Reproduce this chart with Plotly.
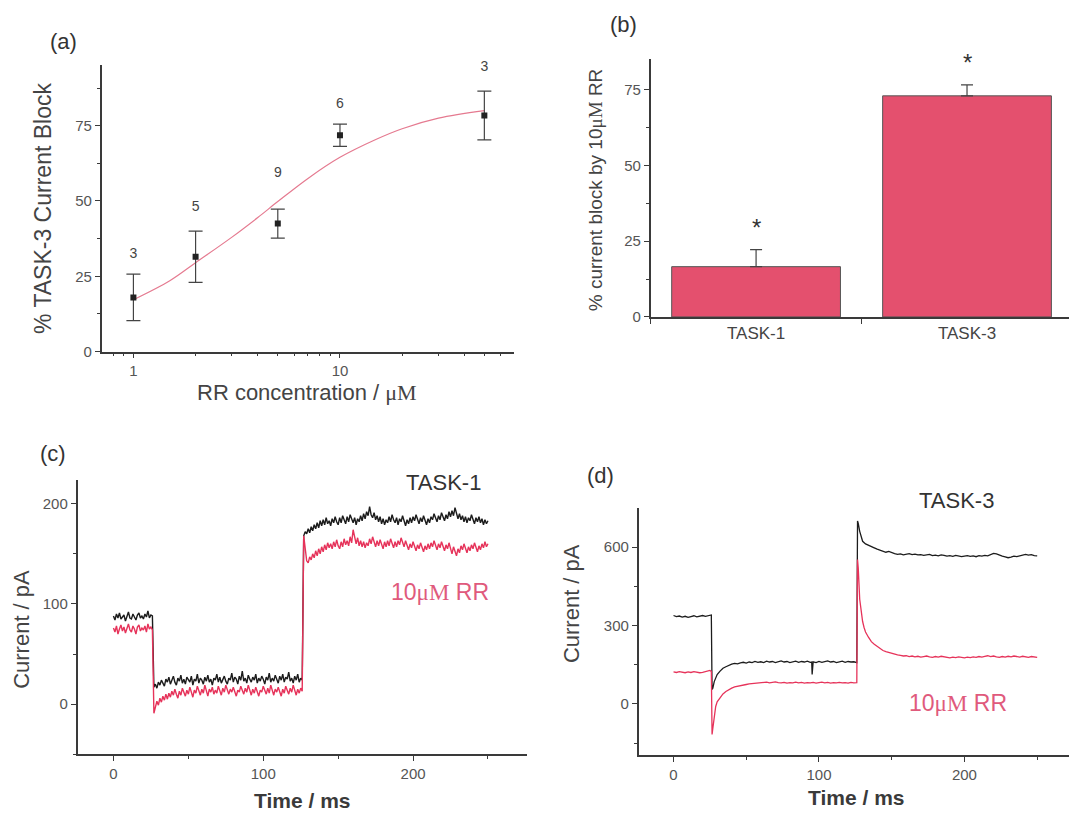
import plotly.graph_objects as go

W, H = 1077, 817

# ---------------- (a) concentration response ----------------
conc = [1, 2, 5, 10, 50]
block = [18.0, 31.5, 42.5, 71.8, 78.4]
block_err = [7.7, 8.5, 4.8, 3.7, 8.1]
n_cells = ["3", "5", "9", "6", "3"]
n_label_y = [32.3, 48.0, 59.1, 82.1, 94.4]
fit_conc = [1, 1.5, 2, 3, 4, 5, 7, 10, 15, 20, 30, 50]
fit_block = [17.2, 23.5, 29.5, 38.0, 44.5, 49.8, 57.5, 64.5, 70.5, 74.0, 77.5, 80.0]

# ---------------- (b) block by 10 uM RR ----------------
channels = ["TASK-1", "TASK-3"]
block10 = [16.6, 73.0]
block10_err = [5.6, 3.6]
star_y = [31.3, 85.6]

# ---------------- (c) TASK-1 currents (pA), 1 ms sampling ----------------
c_black_1 = [88, 84, 90, 86, 91, 85, 87, 89, 83, 88, 92, 86, 85, 90, 87, 84, 89, 91, 86, 88, 85, 90, 87, 93, 86, 89, 88]
c_black_2 = [17, 20, 16, 22, 19, 24, 21, 18, 25, 22, 27, 20, 24, 28, 22, 19, 26, 23, 29, 21,
             25, 20, 27, 24, 22, 28, 19, 25, 23, 30, 21, 26, 24, 20, 27, 23, 29, 22, 25, 19,
             26, 24, 30, 22, 27, 21, 25, 28, 23, 20, 26, 24, 31, 22, 27, 25, 20, 28, 24, 33,
             23, 26, 21, 29, 25, 22, 27, 24, 30, 21, 26, 23, 28, 25, 20, 27, 24, 31, 22, 26,
             23, 29, 25, 21, 28, 24, 30, 22, 27, 25, 32, 23, 26, 21, 28, 24, 30, 22, 26, 24]
c_black_3 = [168, 172, 170, 175, 171, 177, 173, 179, 175, 181, 176, 183, 178, 184, 179, 186, 180, 183, 178, 185,
             181, 187, 182, 179, 186, 181, 188, 183, 180, 187, 182, 189, 184, 181, 186, 179, 185, 182, 188, 183,
             190, 185, 192, 188, 197, 189, 186, 191, 184, 188, 182, 187, 180, 185, 179, 184, 181, 187, 182, 189,
             184, 181, 186, 179, 185, 182, 188, 183, 178, 184, 180, 186, 181, 187, 183, 189, 184, 180, 186, 182,
             188, 183, 179, 185, 181, 187, 184, 190, 185, 182, 188, 184, 191, 186, 183, 189, 185, 192, 187, 193,
             188, 196, 189, 185, 190, 184, 188, 182, 187, 181, 186, 183, 189, 184, 180, 186, 182, 187, 181, 185,
             179, 184, 180, 183]
c_red_1 = [76, 72, 78, 70, 75, 79, 73, 77, 71, 76, 80, 74, 72, 78, 75, 70, 77, 79, 73, 76, 74, 78, 72, 80, 75, 77, 74]
c_red_2 = [-9, -2, 3, -1, 6, 2, 8, 4, 10, 5, 11, 7, 13, 9, 15, 10, 6, 13, 9, 16,
           11, 8, 14, 10, 17, 12, 7, 14, 11, 18, 12, 9, 15, 11, 19, 13, 8, 15, 12, 17,
           10, 14, 11, 18, 13, 9, 16, 12, 19, 14, 10, 15, 12, 17, 11, 8, 14, 12, 18, 13,
           10, 16, 12, 19, 14, 9, 15, 11, 17, 13, 8, 14, 12, 18, 13, 10, 16, 11, 19, 14,
           9, 15, 12, 17, 13, 8, 15, 11, 18, 13, 10, 16, 12, 19, 14, 9, 15, 11, 16, 13]
c_red_3 = [168, 152, 143, 141, 147, 144, 150, 146, 153, 148, 155, 150, 157, 152, 159, 154, 161, 156, 160, 155,
           162, 157, 164, 158, 155, 162, 157, 165, 159, 163, 158, 167, 161, 174, 165, 160, 166, 158, 163, 157,
           162, 156, 161, 158, 165, 160, 167, 161, 157, 163, 158, 164, 159, 155, 162, 157, 163, 158, 165, 160,
           156, 162, 157, 163, 159, 166, 161, 157, 163, 158, 154, 160, 156, 162, 157, 153, 159, 155, 161, 156,
           152, 158, 154, 160, 155, 161, 157, 163, 158, 154, 160, 156, 162, 157, 153, 159, 155, 161, 156, 150,
           157, 153, 148, 155, 151, 158, 154, 160, 155, 151, 157, 153, 159, 155, 161, 156, 152, 158, 154, 160,
           156, 162, 157, 160]

# ---------------- (d) TASK-3 currents (pA) ----------------
d_black_t = [0, 2, 4, 6, 8, 10, 12, 14, 16, 18, 20, 22, 24, 26,
             26.5, 27, 28, 29, 30, 32, 34, 36, 38, 40, 42, 44, 46, 48, 50, 52, 54, 56, 58, 60,
             62, 64, 66, 68, 70, 72, 74, 76, 78, 80, 82, 84, 86, 88, 90, 92, 94, 95, 95.3, 95.6,
             96, 98, 100, 102, 104, 106, 108, 110, 112, 114, 116, 118, 120, 122, 124, 126,
             126.5, 127, 128, 129, 130, 132, 134, 136, 138, 140, 142, 144, 146, 148, 150, 152, 154,
             156, 158, 160, 162, 164, 166, 168, 170, 172, 174, 176, 178, 180, 182, 184, 186, 188,
             190, 192, 194, 196, 198, 200, 202, 204, 206, 208, 210, 212, 214, 216, 218, 220, 222,
             224, 226, 228, 230, 232, 234, 236, 238, 240, 242, 244, 246, 248, 250]
d_black_i = [338, 334, 336, 332, 335, 331, 334, 337, 333, 336, 338, 335, 339, 340,
             55, 60, 85, 100, 112, 125, 136, 142, 148, 152, 155, 153, 157, 159, 156, 160, 158, 162, 159, 161,
             158, 163, 160, 162, 158, 161, 164, 160, 162, 158, 161, 163, 159, 162, 160, 163, 159, 160, 112, 158,
             161, 158, 162, 159, 161, 164, 160, 162, 158, 161, 163, 159, 162, 160, 161, 158,
             700, 690, 660, 635, 622, 612, 606, 600, 597, 592, 588, 585, 580, 583, 578, 575, 572,
             574, 570, 572, 575, 571, 573, 570, 571, 568, 570, 572, 567, 569, 566, 570, 568, 565,
             567, 564, 568, 566, 563, 565, 567, 564, 566, 563, 567, 565, 568, 566, 570, 576, 574,
             568, 565, 562, 559, 561, 565, 563, 567, 570, 572, 569, 571, 567, 566]
d_red_t = [0, 2, 4, 6, 8, 10, 12, 14, 16, 18, 20, 22, 24, 25, 26,
           26.5, 27, 28, 29, 30, 32, 34, 36, 38, 40, 42, 44, 46, 48, 50, 52, 54, 56, 58, 60,
           62, 64, 66, 68, 70, 72, 74, 76, 78, 80, 82, 84, 86, 88, 90, 92, 94, 96, 98, 100,
           102, 104, 106, 108, 110, 112, 114, 116, 118, 120, 122, 124, 126,
           126.5, 127, 128, 129, 130, 131, 132, 134, 136, 138, 140, 142, 144, 146, 148, 150,
           152, 154, 156, 158, 160, 162, 164, 166, 168, 170, 172, 174, 176, 178, 180, 182, 184,
           186, 188, 190, 192, 194, 196, 198, 200, 202, 204, 206, 208, 210, 212, 214, 216, 218,
           220, 222, 224, 226, 228, 230, 232, 234, 236, 238, 240, 242, 244, 246, 248, 250]
d_red_i = [122, 120, 123, 121, 119, 122, 120, 123, 121, 119, 120, 122, 126, 128, 124,
           -117, -95, -40, -10, 8, 25, 38, 47, 55, 60, 65, 68, 70, 73, 74, 76, 77, 78, 80, 79,
           81, 83, 80, 82, 84, 81, 80, 82, 79, 81, 80, 83, 80, 82, 79, 81, 80, 82, 79, 81,
           83, 80, 82, 79, 81, 80, 82, 80, 81, 79, 82, 80, 81,
           552, 520, 400, 350, 315, 292, 275, 255, 238, 228, 220, 210, 204, 200, 196, 192,
           190, 187, 185, 183, 184, 181, 183, 180, 182, 179, 181, 183, 180, 178, 181, 179, 182,
           180, 178, 176, 179, 177, 180, 178, 176, 179, 177, 180, 178, 181, 179, 182, 184, 181,
           183, 180, 178, 181, 179, 182, 180, 183, 181, 179, 182, 180, 178, 181, 179, 178]

# ---------------- styling helpers ----------------
AX = "#3a3a3a"
FONT = "Liberation Sans, Arial, sans-serif"
TICKF = dict(family=FONT, size=15, color="#555")
RED = "#E6335A"
BAR = "#E4506E"
PINK = "#E05A7C"
OFF_X = 8  # page body margin of the rendered html
OFF_Y = 3


def axis(domain, **kw):
    d = dict(domain=domain, showline=True, linecolor=AX, linewidth=1.5,
             ticks="outside", ticklen=5, tickwidth=1.2, tickcolor=AX,
             showgrid=False, zeroline=False, tickfont=TICKF, fixedrange=True)
    d.update(kw)
    return d


def px(x):
    return (x - OFF_X) / W


def py(y):
    return 1 - (y - OFF_Y) / H


fig = go.Figure()

# (a)
fig.add_trace(go.Scatter(x=fit_conc, y=fit_block, mode="lines", line=dict(color="#E57A90", width=1.2, shape="spline"),
                         xaxis="x", yaxis="y", showlegend=False, hoverinfo="skip"))
fig.add_trace(go.Scatter(x=conc, y=block, mode="markers",
                         marker=dict(symbol="square", size=6, color="#222"),
                         error_y=dict(type="data", array=block_err, color="#444", thickness=1.2, width=7),
                         xaxis="x", yaxis="y", showlegend=False))
fig.add_trace(go.Scatter(x=conc, y=n_label_y, mode="text", text=n_cells, cliponaxis=False,
                         textfont=dict(family=FONT, size=14, color="#444"),
                         xaxis="x", yaxis="y", showlegend=False, hoverinfo="skip"))

# (b)
fig.add_trace(go.Bar(x=channels, y=block10, width=0.8,
                     marker=dict(color=BAR, line=dict(color="#555", width=1)),
                     error_y=dict(type="data", array=block10_err, arrayminus=[0, 0], symmetric=False,
                                  color="#444", thickness=1.2, width=6),
                     xaxis="x2", yaxis="y2", showlegend=False))

# (c)
c_t1 = list(range(0, len(c_black_1)))
c_t2 = list(range(len(c_black_1), len(c_black_1) + len(c_black_2)))
c_t3 = list(range(c_t2[-1] + 1, c_t2[-1] + 1 + len(c_black_3)))
fig.add_trace(go.Scatter(x=c_t1 + c_t2 + c_t3, y=c_black_1 + c_black_2 + c_black_3, mode="lines",
                         line=dict(color="#1c1c1c", width=1.4), xaxis="x3", yaxis="y3", showlegend=False))
fig.add_trace(go.Scatter(x=c_t1 + c_t2 + c_t3, y=c_red_1 + c_red_2 + c_red_3, mode="lines",
                         line=dict(color=RED, width=1.4), xaxis="x3", yaxis="y3", showlegend=False))

# (d)
fig.add_trace(go.Scatter(x=d_black_t, y=d_black_i, mode="lines",
                         line=dict(color="#1c1c1c", width=1.3), xaxis="x4", yaxis="y4", showlegend=False))
fig.add_trace(go.Scatter(x=d_red_t, y=d_red_i, mode="lines",
                         line=dict(color=RED, width=1.3), xaxis="x4", yaxis="y4", showlegend=False))

mu = "<span style='font-family:Liberation Serif, Times New Roman, serif'>μM</span>"

ann = []


def note(x, y, text, size, color="#444", angle=0, bold=False):
    ann.append(dict(x=px(x), y=py(y), xref="paper", yref="paper", text=("<b>%s</b>" % text) if bold else text,
                    showarrow=False, textangle=angle, xanchor="center", yanchor="middle",
                    font=dict(family=FONT, size=size, color=color)))


# panel letters
note(63.5, 37, "(a)", 22, "#333")
note(623, 20, "(b)", 22, "#333")
note(53.4, 453, "(c)", 22, "#333")
note(600.5, 475, "(d)", 22, "#333")
# axis titles
note(43, 206, "% TASK-3 Current Block", 23, "#444", angle=-90)
note(307, 391, "RR concentration / " + mu, 22, "#444")
note(595, 187, "% current block by 10" + mu + " RR", 19, "#444", angle=-90)
note(22, 631, "Current / pA", 22, "#444", angle=-90)
note(302, 803, "Time / ms", 21, "#3a3a3a", bold=True)
note(571, 605, "Current / pA", 22, "#444", angle=-90)
note(856, 800, "Time / ms", 21, "#3a3a3a", bold=True)
# in-panel labels
note(443, 482, "TASK-1", 22, "#333")
note(440, 593, "10" + mu + " RR", 23, PINK)
note(956, 500, "TASK-3", 22, "#333")
note(958, 705, "10" + mu + " RR", 23, PINK)

Y2_TOP = 85
for ch, sy in zip(channels, star_y):
    ann.append(dict(x=ch, y=sy / Y2_TOP, xref="x2", yref="y2 domain", text="*", showarrow=False, yshift=-5,
                    xanchor="center", yanchor="middle",
                    font=dict(family=FONT, size=24, color="#333")))

fig.update_layout(
    width=W, height=H, margin=dict(l=0, r=0, t=0, b=0),
    paper_bgcolor="white", plot_bgcolor="white", showlegend=False,
    xaxis=axis([px(101.6), px(514.1)], type="log", range=[-0.154, 1.843], dtick=1,
               minor=dict(ticks="outside", ticklen=3, tickcolor=AX, dtick="D1"), anchor="y"),
    yaxis=axis([py(350), py(61)], range=[0, 95], dtick=25, tick0=0,
               minor=dict(ticks="outside", ticklen=3, tickcolor=AX, dtick=12.5), anchor="x"),
    xaxis2=axis([px(650.6), px(1072.5)], type="category", range=[-0.5, 1.5], tickson="boundaries",
                tickfont=dict(family=FONT, size=17, color="#444"), anchor="y2"),
    yaxis2=axis([py(315), py(55)], range=[0, Y2_TOP], dtick=25, tick0=0,
                minor=dict(ticks="outside", ticklen=3, tickcolor=AX, dtick=12.5), anchor="x2"),
    xaxis3=axis([px(77.5), px(526.9)], range=[-24, 276], dtick=100, tick0=0,
                minor=dict(ticks="outside", ticklen=3, tickcolor=AX, dtick=50), anchor="y3"),
    yaxis3=axis([py(756.7), py(479.3)], range=[-50, 224], dtick=100, tick0=0,
                minor=dict(ticks="outside", ticklen=3, tickcolor=AX, dtick=50), anchor="x3"),
    xaxis4=axis([px(638.6), px(1075)], range=[-24, 276], dtick=100, tick0=0,
                minor=dict(ticks="outside", ticklen=3, tickcolor=AX, dtick=50), anchor="y4"),
    yaxis4=axis([py(757.7), py(508.3)], range=[-197, 748], dtick=300, tick0=0,
                minor=dict(ticks="outside", ticklen=3, tickcolor=AX, dtick=150), anchor="x4"),
    annotations=ann,
)

fig.write_html("out.html")
